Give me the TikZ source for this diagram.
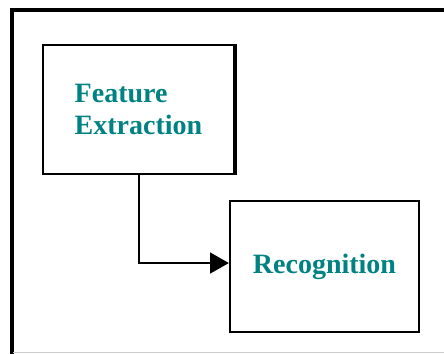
\documentclass[tikz,border=0pt]{standalone}
\usepackage{fontspec}
\setmainfont{Liberation Serif}
\usetikzlibrary{arrows.meta}
\definecolor{labelteal}{HTML}{008282}
\tikzset{
  stage/.style={draw=black, line width=1.7pt, fill=white, inner sep=0pt,
    align=left, font=\bfseries\fontsize{21}{24}\selectfont, text=labelteal},
  flow/.style={draw=black, line width=1.5pt,
    -{Triangle[length=14pt,width=15.5pt]}},
  frame/.style={draw=black, line width=3pt}
}
\begin{document}
\begin{tikzpicture}[x=0.75pt,y=-0.75pt]
  \useasboundingbox[fill=white] (0,0) rectangle (444,354);
  % outer frame, open at right and bottom
  \coordinate (fbl) at (12,354);
  \coordinate (ftl) at (12,9.5);
  \coordinate (ftr) at (444,9.5);
  \draw[frame] (fbl) -- (ftl) -- (ftr);
  \coordinate (gl) at (13,352.5);
  \coordinate (gr) at (444,352.5);
  \draw[black!20, line width=1.2pt] (gl) -- (gr);
  % processing stages
  \node[stage, minimum width=143.25pt, minimum height=96.75pt] (fe) at (138.5,109.5)
    {Feature\\Extraction};
  \draw[black, line width=2pt] ([xshift=0.6pt]fe.north east) -- ([xshift=0.6pt]fe.south east);
  \node[stage, minimum width=141.75pt, minimum height=98.25pt] (rec) at (324.5,266.5)
    {Recognition};
  % connector
  \draw[flow] (fe.south) |- ([yshift=2.6pt]rec.west);
\end{tikzpicture}
\end{document}
